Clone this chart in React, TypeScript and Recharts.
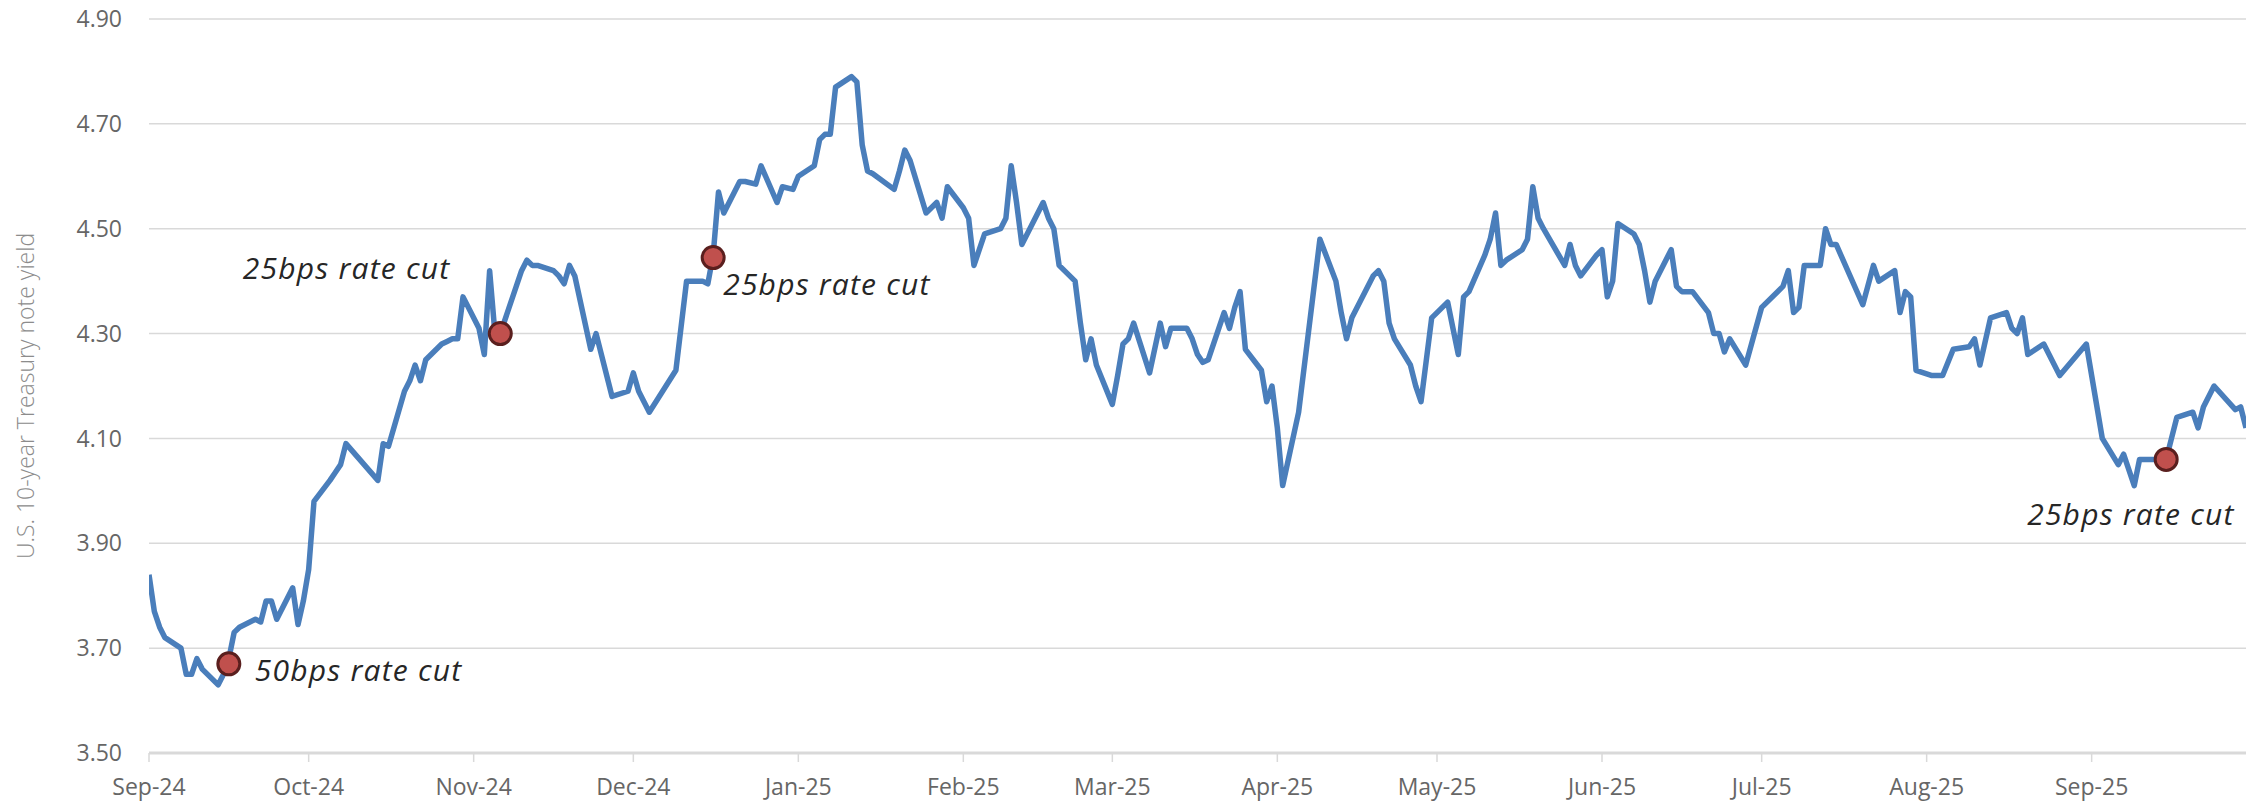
import { CartesianGrid, ComposedChart, Label, Line, ReferenceDot, XAxis, YAxis } from 'recharts';

// daily close of the 10-year note (straight stretches are left to the line)
const dates = [
  '2024-09-03', '2024-09-04', '2024-09-05', '2024-09-06', '2024-09-09', '2024-09-10', '2024-09-11',
  '2024-09-12', '2024-09-13', '2024-09-16', '2024-09-17', '2024-09-18', '2024-09-19', '2024-09-20',
  '2024-09-23', '2024-09-24', '2024-09-25', '2024-09-26', '2024-09-27', '2024-09-30',
  '2024-10-01', '2024-10-02', '2024-10-03', '2024-10-04', '2024-10-07', '2024-10-08', '2024-10-09',
  '2024-10-10', '2024-10-16', '2024-10-17', '2024-10-18', '2024-10-21', '2024-10-22', '2024-10-23',
  '2024-10-24', '2024-10-25', '2024-10-28', '2024-10-29', '2024-10-30', '2024-10-31',
  '2024-11-01', '2024-11-04', '2024-11-05', '2024-11-06', '2024-11-07', '2024-11-08', '2024-11-12',
  '2024-11-13', '2024-11-14', '2024-11-15', '2024-11-18', '2024-11-19', '2024-11-20', '2024-11-21',
  '2024-11-22', '2024-11-25', '2024-11-26', '2024-11-29',
  '2024-12-02', '2024-12-03', '2024-12-04', '2024-12-05', '2024-12-06', '2024-12-11', '2024-12-13',
  '2024-12-16', '2024-12-17', '2024-12-18', '2024-12-19', '2024-12-20', '2024-12-23', '2024-12-24',
  '2024-12-26', '2024-12-27', '2024-12-30', '2024-12-31',
  '2025-01-02', '2025-01-03', '2025-01-06', '2025-01-07', '2025-01-08', '2025-01-09', '2025-01-10',
  '2025-01-13', '2025-01-14', '2025-01-15', '2025-01-16', '2025-01-17', '2025-01-21', '2025-01-22',
  '2025-01-23', '2025-01-24', '2025-01-27', '2025-01-28', '2025-01-29', '2025-01-30', '2025-01-31',
  '2025-02-03', '2025-02-04', '2025-02-05', '2025-02-06', '2025-02-07', '2025-02-10', '2025-02-11',
  '2025-02-12', '2025-02-13', '2025-02-14', '2025-02-18', '2025-02-19', '2025-02-20', '2025-02-21',
  '2025-02-24', '2025-02-25', '2025-02-26', '2025-02-27', '2025-02-28',
  '2025-03-03', '2025-03-04', '2025-03-05', '2025-03-06', '2025-03-07', '2025-03-10', '2025-03-12',
  '2025-03-13', '2025-03-14', '2025-03-17', '2025-03-18', '2025-03-19', '2025-03-20', '2025-03-21',
  '2025-03-24', '2025-03-25', '2025-03-26', '2025-03-27', '2025-03-28', '2025-03-31',
  '2025-04-01', '2025-04-02', '2025-04-03', '2025-04-04', '2025-04-07', '2025-04-11', '2025-04-14',
  '2025-04-15', '2025-04-16', '2025-04-17', '2025-04-21', '2025-04-22', '2025-04-23', '2025-04-24',
  '2025-04-25', '2025-04-28', '2025-04-29', '2025-04-30',
  '2025-05-02', '2025-05-05', '2025-05-06', '2025-05-07', '2025-05-08', '2025-05-09', '2025-05-12',
  '2025-05-13', '2025-05-14', '2025-05-15', '2025-05-16', '2025-05-19', '2025-05-20', '2025-05-21',
  '2025-05-22', '2025-05-23', '2025-05-27', '2025-05-28', '2025-05-29', '2025-05-30',
  '2025-06-02', '2025-06-03', '2025-06-04', '2025-06-05', '2025-06-06', '2025-06-09', '2025-06-10',
  '2025-06-11', '2025-06-12', '2025-06-13', '2025-06-16', '2025-06-17', '2025-06-18', '2025-06-20',
  '2025-06-23', '2025-06-24', '2025-06-25', '2025-06-26', '2025-06-27', '2025-06-30',
  '2025-07-03', '2025-07-07', '2025-07-08', '2025-07-09', '2025-07-10', '2025-07-11', '2025-07-14',
  '2025-07-15', '2025-07-16', '2025-07-17', '2025-07-22', '2025-07-24', '2025-07-25', '2025-07-28',
  '2025-07-29', '2025-07-30', '2025-07-31',
  '2025-08-01', '2025-08-04', '2025-08-06', '2025-08-08', '2025-08-11', '2025-08-12', '2025-08-13',
  '2025-08-15', '2025-08-18', '2025-08-19', '2025-08-20', '2025-08-21', '2025-08-22', '2025-08-25',
  '2025-08-28',
  '2025-09-02', '2025-09-05', '2025-09-08', '2025-09-09', '2025-09-11', '2025-09-12', '2025-09-15',
  '2025-09-17', '2025-09-18', '2025-09-19', '2025-09-22', '2025-09-23', '2025-09-24', '2025-09-26',
  '2025-09-30', '2025-10-01', '2025-10-02',
];

const yields = [
  3.84, 3.77, 3.74, 3.72, 3.7, 3.65, 3.65,
  3.68, 3.66, 3.63, 3.65, 3.68, 3.73, 3.74,
  3.755, 3.75, 3.79, 3.79, 3.755, 3.815,
  3.745, 3.79, 3.85, 3.98, 4.02, 4.035, 4.05,
  4.09, 4.02, 4.09, 4.085, 4.19, 4.21, 4.24,
  4.21, 4.25, 4.28, 4.285, 4.29, 4.29,
  4.37, 4.31, 4.26, 4.42, 4.3, 4.3, 4.42,
  4.44, 4.43, 4.43, 4.42, 4.41, 4.395, 4.43,
  4.41, 4.27, 4.3, 4.18,
  4.19, 4.225, 4.19, 4.17, 4.15, 4.23, 4.4,
  4.4, 4.395, 4.45, 4.57, 4.53, 4.59, 4.59,
  4.585, 4.62, 4.55, 4.58,
  4.575, 4.6, 4.62, 4.67, 4.68, 4.68, 4.77,
  4.79, 4.78, 4.66, 4.61, 4.605, 4.575, 4.61,
  4.65, 4.63, 4.53, 4.54, 4.55, 4.52, 4.58,
  4.54, 4.52, 4.43, 4.46, 4.49, 4.5, 4.52,
  4.62, 4.55, 4.47, 4.55, 4.52, 4.5, 4.43,
  4.4, 4.32, 4.25, 4.29, 4.24,
  4.165, 4.22, 4.28, 4.29, 4.32, 4.225, 4.32,
  4.275, 4.31, 4.31, 4.29, 4.26, 4.245, 4.25,
  4.34, 4.31, 4.35, 4.38, 4.27, 4.23,
  4.17, 4.2, 4.12, 4.01, 4.15, 4.48, 4.4,
  4.34, 4.29, 4.33, 4.41, 4.42, 4.4, 4.32,
  4.29, 4.24, 4.2, 4.17,
  4.33, 4.36, 4.31, 4.26, 4.37, 4.38, 4.45,
  4.48, 4.53, 4.43, 4.44, 4.46, 4.48, 4.58,
  4.52, 4.5, 4.43, 4.47, 4.43, 4.41,
  4.45, 4.46, 4.37, 4.4, 4.51, 4.49, 4.47,
  4.42, 4.36, 4.4, 4.46, 4.39, 4.38, 4.38,
  4.34, 4.3, 4.3, 4.265, 4.29, 4.24,
  4.35, 4.39, 4.42, 4.34, 4.35, 4.43, 4.43,
  4.5, 4.47, 4.47, 4.355, 4.43, 4.4, 4.42,
  4.34, 4.38, 4.37,
  4.23, 4.22, 4.22, 4.27, 4.275, 4.29, 4.24,
  4.33, 4.34, 4.31, 4.3, 4.33, 4.26, 4.28,
  4.22,
  4.28, 4.1, 4.05, 4.07, 4.01, 4.06, 4.06,
  4.06, 4.1, 4.14, 4.15, 4.12, 4.16, 4.2,
  4.155, 4.16, 4.12,
];

const monthTicks = [
  '2024-09-03', '2024-10-03', '2024-11-03', '2024-12-03', '2025-01-03', '2025-02-03', '2025-03-03',
  '2025-04-03', '2025-05-03', '2025-06-03', '2025-07-03', '2025-08-03', '2025-09-03',
];
const monthLabels = [
  'Sep-24', 'Oct-24', 'Nov-24', 'Dec-24', 'Jan-25', 'Feb-25', 'Mar-25',
  'Apr-25', 'May-25', 'Jun-25', 'Jul-25', 'Aug-25', 'Sep-25',
];
const yTicks = [3.5, 3.7, 3.9, 4.1, 4.3, 4.5, 4.7, 4.9];

const cutDates = ['2024-09-18', '2024-11-08', '2024-12-18', '2025-09-17'];
const cutYields = [3.67, 4.3, 4.445, 4.06];
const cutLabels = ['50bps rate cut', '25bps rate cut', '25bps rate cut', '25bps rate cut'];

const axisStart = '2024-09-03';
const axisEnd = '2025-10-02';

const toTime = (d: string) => Date.parse(d);
const data = dates.map((d, i) => ({ t: toTime(d), y: yields[i] }));
const tickTimes = monthTicks.map(toTime);

// where each note sits relative to its dot
const notePlacement = [
  { dx: 26, dy: 17, anchor: 'start' },
  { dx: -50, dy: -55, anchor: 'end' },
  { dx: 10, dy: 37, anchor: 'start' },
  { dx: -139, dy: 66, anchor: 'start' },
];

const tickStyle = { fontFamily: 'Open Sans', fontSize: 23, fill: '#666666' };

export default function App() {
  return (
    <div style={{ position: 'absolute', left: 0, top: 0, background: '#fff' }}>
      <ComposedChart
        width={2262}
        height={806}
        data={data}
        margin={{ top: 19, right: 16, bottom: 0, left: 0 }}
      >
        <CartesianGrid vertical={false} stroke="#d9d9d9" strokeWidth={1.5} />
        <XAxis
          dataKey="t"
          type="number"
          scale="time"
          domain={[toTime(axisStart), toTime(axisEnd)]}
          ticks={tickTimes}
          tickFormatter={(v: number) => monthLabels[tickTimes.indexOf(v)] ?? ''}
          tick={tickStyle}
          height={53}
          tickSize={9}
          tickMargin={17}
          axisLine={{ stroke: '#d9d9d9', strokeWidth: 3 }}
          tickLine={{ stroke: '#d9d9d9', strokeWidth: 1.5 }}
          interval={0}
          allowDataOverflow
        />
        <YAxis
          type="number"
          domain={[3.5, 4.9]}
          ticks={yTicks}
          tickFormatter={(v: number) => v.toFixed(2)}
          tick={tickStyle}
          width={149}
          tickSize={0}
          tickMargin={27}
          axisLine={false}
          tickLine={false}
          interval={0}
        >
          <Label
            content={({ viewBox }: any) => {
              const cy = viewBox.y + viewBox.height / 2 + 10;
              return (
                <text
                  x={25}
                  y={cy}
                  transform={`rotate(-90, 25, ${cy})`}
                  textAnchor="middle"
                  dominantBaseline="central"
                  fontFamily="Open Sans"
                  fontWeight={300}
                  fontSize={23}
                  fill="#8c8c8c"
                >
                  U.S. 10-year Treasury note yield
                </text>
              );
            }}
          />
        </YAxis>
        <Line
          dataKey="y"
          type="linear"
          stroke="#4a7ebb"
          strokeWidth={5.5}
          strokeLinejoin="round"
          dot={false}
          activeDot={false}
          isAnimationActive={false}
        />
        {cutDates.map((d, i) => (
          <ReferenceDot
            key={d}
            x={toTime(d)}
            y={cutYields[i]}
            r={11}
            fill="#c0504d"
            stroke="#5a1f1e"
            strokeWidth={3}
          >
            <Label
              content={({ viewBox }: any) => {
                const cx = viewBox.x + viewBox.width / 2;
                const cy = viewBox.y + viewBox.height / 2;
                const p = notePlacement[i];
                return (
                  <text
                    x={cx + p.dx}
                    y={cy + p.dy}
                    textAnchor={p.anchor as 'start' | 'end'}
                    fontFamily="Open Sans"
                    fontStyle="italic"
                    fontSize={30}
                    letterSpacing={1.2}
                    fill="#262626"
                  >
                    {cutLabels[i]}
                  </text>
                );
              }}
            />
          </ReferenceDot>
        ))}
      </ComposedChart>
    </div>
  );
}
